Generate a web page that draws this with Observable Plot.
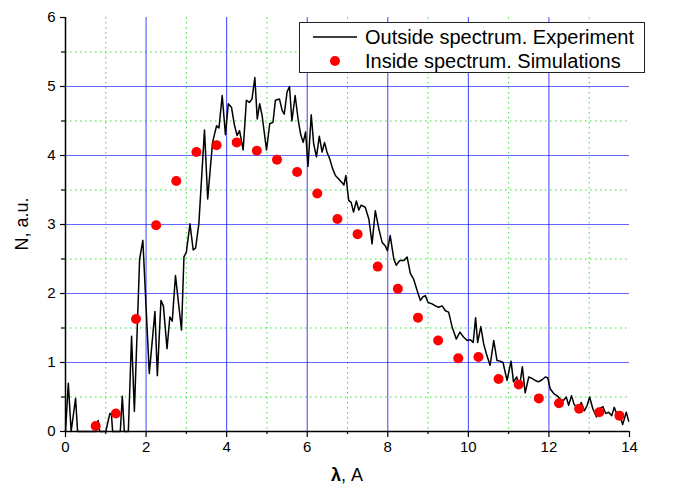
<!DOCTYPE html>
<html>
<head>
<meta charset="utf-8">
<script src="https://cdn.jsdelivr.net/npm/d3@7"></script>
<script src="https://cdn.jsdelivr.net/npm/@observablehq/plot@0.6"></script>
<style>
  html, body { margin: 0; padding: 0; background: #fff; }
  #wrap { position: relative; width: 675px; height: 486px; font-family: Arial, "Liberation Sans", sans-serif; }
  #legend { position: absolute; left: 299px; top: 22px; width: 346px; height: 51px; border: 1px solid #222; background: #fff; box-sizing: border-box; }
  .row { position: absolute; left: 0; height: 24px; display: flex; align-items: center; font-size: 20px; color: #000; white-space: nowrap; }
  .row svg { margin-left: 13px; margin-right: 8px; }
</style>
</head>
<body>
<div id="wrap">
  <div id="chart"></div>
  <div id="legend">
    <div class="row" style="top:2px;"><svg width="44" height="6"><line x1="0" y1="3" x2="44" y2="3" stroke="#000" stroke-width="1.5"/></svg><span>Outside spectrum. Experiment</span></div>
    <div class="row" style="top:26px;"><svg width="44" height="12"><circle cx="22" cy="6" r="5" fill="#ff0000"/></svg><span>Inside spectrum. Simulations</span></div>
  </div>
</div>
<script>
// Experiment (outside spectrum) - black line
const expX = [0,0.07,0.14,0.25,0.3,0.76,0.81,0.85,1.0,1.1,1.14,1.17,1.36,1.41,1.46,1.56,1.64,1.71,1.84,1.92,
  2.08,2.22,2.28,2.37,2.43,2.52,2.59,2.65,2.73,2.88,2.94,3.0,3.09,3.17,3.23,3.31,3.45,3.53,3.65,3.75,3.81,3.89,3.97,
  4.04,4.12,4.19,4.26,4.32,4.41,4.49,4.57,4.63,4.7,4.76,4.82,4.88,4.99,5.07,5.15,5.21,5.31,5.38,5.43,5.5,5.56,5.62,5.7,5.78,5.84,5.9,5.96,
  6.02,6.1,6.16,6.23,6.3,6.37,6.43,6.49,6.56,6.63,6.7,6.78,6.86,6.91,6.96,7.03,7.09,7.15,7.22,7.28,7.34,7.44,7.53,7.61,7.69,7.78,7.86,7.94,7.99,
  8.06,8.15,8.21,8.3,8.4,8.48,8.56,8.64,8.73,8.81,8.87,8.93,9.0,9.1,9.18,9.26,9.35,9.43,9.51,9.6,9.7,9.79,9.88,9.97,
  10.05,10.12,10.18,10.23,10.31,10.38,10.46,10.54,10.63,10.71,10.79,10.86,10.96,11.06,11.12,11.2,11.27,11.34,11.41,11.5,11.58,11.66,11.74,11.83,11.91,11.97,
  12.03,12.12,12.2,12.28,12.36,12.43,12.49,12.56,12.62,12.68,12.74,12.8,12.88,12.95,13.01,13.09,13.18,13.26,13.34,13.41,13.48,13.56,13.62,13.7,13.77,13.83,13.92,13.98];
const expY = [0,0.7,0,0.48,0,0,0.16,0,0,0.26,0.25,0,0,0.51,0,0,1.38,0.29,2.5,2.77,
  0.84,1.74,0.81,1.9,1.82,1.2,1.66,1.6,2.26,1.47,2.53,2.6,3.01,2.63,2.66,3.01,4.37,3.37,4.19,4.43,4.4,4.87,4.3,
  4.75,4.7,4.45,4.29,4.36,4.08,4.8,4.77,4.82,5.13,4.53,4.75,4.58,4.08,4.46,4.48,4.8,4.82,4.65,4.6,4.92,5.0,4.5,4.87,4.5,4.3,4.19,4.34,
  3.84,4.59,4.17,3.98,4.28,4.05,4.19,4.05,3.95,3.81,3.71,3.66,3.61,3.57,3.71,3.35,3.32,3.18,3.34,3.21,3.28,3.25,3.08,2.72,3.2,2.93,2.74,2.69,2.62,
  2.84,2.5,2.41,2.48,2.48,2.53,2.29,2.21,2.04,1.9,1.95,1.97,1.87,1.85,1.82,1.8,1.82,1.75,1.73,1.51,1.34,1.44,1.37,1.32,
  1.33,1.29,1.65,1.29,1.52,1.27,1.1,0.96,1.32,1.03,1.02,1.0,0.74,1.02,0.72,0.79,0.64,0.94,0.56,0.79,0.77,0.74,0.72,0.75,0.79,0.78,
  0.62,0.55,0.52,0.47,0.45,0.5,0.38,0.52,0.4,0.35,0.3,0.42,0.3,0.38,0.5,0.33,0.21,0.33,0.36,0.26,0.28,0.23,0.35,0.23,0.22,0.1,0.28,0.15];

// Simulations (inside spectrum) - red dots
const simX = [0.75,1.25,1.75,2.25,2.75,3.25,3.75,4.25,4.75,5.25,5.75,6.25,6.75,7.25,7.75,8.25,8.75,9.25,9.75,10.25,10.75,11.25,11.75,12.25,12.75,13.25,13.75];
const simY = [0.08,0.26,1.63,2.99,3.63,4.05,4.15,4.19,4.07,3.94,3.76,3.45,3.08,2.86,2.39,2.07,1.65,1.32,1.06,1.08,0.76,0.68,0.48,0.41,0.33,0.28,0.23];

// Ticks and grid positions
const xTicks = [0,2,4,6,8,10,12,14];
const xMinorTicks = [1,3,5,7,9,11,13];
const yTicks = [0,1,2,3,4,5,6];
const yMinorTicks = [0.5,1.5,2.5,3.5,4.5,5.5];
const xGrid = [2,4,6,8,10,12];
const yGrid = [1,2,3,4,5];

const experiment = expX.map((x, i) => ({x, y: expY[i]}));
const simulation = simX.map((x, i) => ({x, y: simY[i]}));

const chart = Plot.plot({
  width: 675,
  height: 486,
  marginLeft: 65,
  marginRight: 46,
  marginTop: 17,
  marginBottom: 55,
  style: {fontFamily: "Arial, 'Liberation Sans', sans-serif", fontSize: "15px", background: "transparent", overflow: "visible"},
  x: {domain: [0, 14]},
  y: {domain: [0, 6]},
  marks: [
    Plot.ruleX(xMinorTicks, {stroke: "#33dd33", strokeDasharray: "1.5,3.5", strokeWidth: 1}),
    Plot.ruleY(yMinorTicks, {stroke: "#33dd33", strokeDasharray: "1.5,3.5", strokeWidth: 1}),
    Plot.ruleX(xGrid, {stroke: "#0000ff", strokeOpacity: 0.75, strokeWidth: 1}),
    Plot.ruleY(yGrid, {stroke: "#0000ff", strokeOpacity: 0.6, strokeWidth: 1.2}),
    Plot.line(experiment, {x: "x", y: "y", stroke: "#000", strokeWidth: 1.5}),
    Plot.dot(simulation, {x: "x", y: "y", r: 5, fill: "#ff0000", stroke: "none"}),
    Plot.axisX(xMinorTicks, {tickSize: 3, text: null, label: null, strokeWidth: 1.2}),
    Plot.axisY(yMinorTicks, {tickSize: 4, text: null, label: null, strokeWidth: 1.2}),
    Plot.axisX(xTicks, {tickSize: 6, tickPadding: 4, label: null, fontSize: 15, strokeWidth: 1.2, fill: "#000", tickFormat: d => String(d)}),
    Plot.axisY(yTicks, {tickSize: 5, tickPadding: 5, label: null, fontSize: 15, strokeWidth: 1.2, fill: "#000", tickFormat: d => String(d)}),
    Plot.ruleY([0], {stroke: "#000", strokeWidth: 1.5}),
    Plot.ruleX([0], {stroke: "#000", strokeWidth: 1.5})
  ]
});

document.getElementById("chart").appendChild(chart);

// Axis titles
const sx = chart.scale("x"), sy = chart.scale("y");
const svg = d3.select(chart);
const xt = svg.append("text")
  .attr("x", sx.apply(7))
  .attr("y", 481)
  .attr("text-anchor", "middle")
  .style("font-size", "18px")
  .attr("fill", "#000");
xt.append("tspan").attr("font-weight", "bold").text("λ");
xt.append("tspan").text(", A");
svg.append("text")
  .attr("transform", `translate(28,${sy.apply(3)}) rotate(-90)`)
  .attr("text-anchor", "middle")
  .style("font-size", "18px")
  .attr("fill", "#000")
  .text("N, a.u.");
</script>
</body>
</html>
